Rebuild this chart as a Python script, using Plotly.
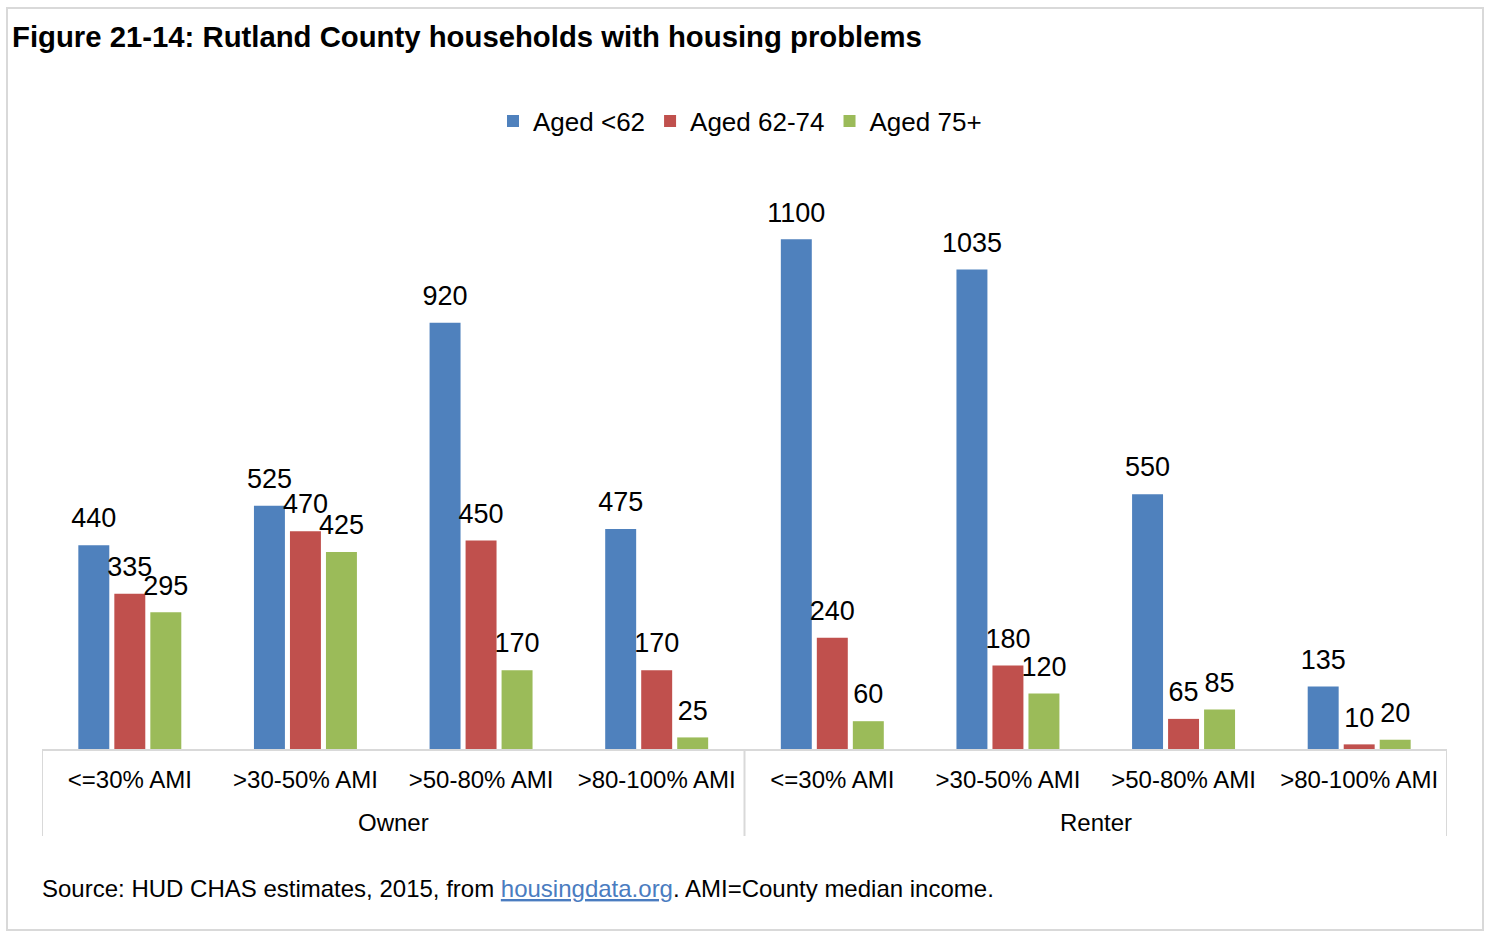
import plotly.graph_objects as go

# Household counts with housing problems, by tenure and income band
tenure = ["Owner"] * 4 + ["Renter"] * 4
income_band = ["<=30% AMI", ">30-50% AMI", ">50-80% AMI", ">80-100% AMI"] * 2

aged_under_62 = [440, 525, 920, 475, 1100, 1035, 550, 135]
aged_62_74 = [335, 470, 450, 170, 240, 180, 65, 10]
aged_75_plus = [295, 425, 170, 25, 60, 120, 85, 20]

series_names = ["Aged <62", "Aged 62-74", "Aged 75+"]
series_values = [aged_under_62, aged_62_74, aged_75_plus]
series_colors = ["#4F81BD", "#C0504D", "#9BBB59"]

FONT = "Liberation Sans, Arial, sans-serif"
W, H = 1486, 931
M_L, M_R, M_T, M_B = 42, 39, 193, 182
plot_w = W - M_L - M_R
plot_h = H - M_T - M_B
BAR_GAP = 0.385


def px_to_paper_x(px):
    return (px - M_L) / plot_w


def px_to_paper_y(py):
    return (H - M_B - py) / plot_h


# one slot per (tenure, income band) pair
positions = list(range(len(income_band)))

fig = go.Figure()
for name, vals, color in zip(series_names, series_values, series_colors):
    fig.add_trace(go.Bar(
        name=name,
        x=positions,
        y=vals,
        marker=dict(color=color, line=dict(width=0)),
        hoverinfo="skip",
    ))

# value labels, grouped the same way as the bars and lifted above the bar tops
for name, vals in zip(series_names, series_values):
    fig.add_trace(go.Scatter(
        name=name + " label",
        x=positions,
        y=vals,
        mode="markers+text",
        marker=dict(size=16, color="rgba(0,0,0,0)", line=dict(width=0)),
        text=[str(v) for v in vals],
        textposition="top center",
        textfont=dict(family=FONT, size=27, color="#000000"),
        cliponaxis=False,
        showlegend=False,
        hoverinfo="skip",
    ))

# group dividers and group names below the income band labels
group_names = []
for t in tenure:
    if t not in group_names:
        group_names.append(t)
edges = [-0.5]
centers = []
for g in group_names:
    idx = [i for i, t in enumerate(tenure) if t == g]
    centers.append(sum(idx) / len(idx))
    edges.append(max(idx) + 0.5)

for e in edges:
    fig.add_shape(
        type="line", xref="x", yref="paper",
        x0=e, x1=e, y0=0, y1=px_to_paper_y(836),
        line=dict(color="#D9D9D9", width=2),
    )
for g, c in zip(group_names, centers):
    fig.add_annotation(
        text=g, xref="x", yref="paper",
        x=c, y=px_to_paper_y(822), yanchor="middle",
        showarrow=False,
        font=dict(family=FONT, size=24, color="#000000"),
    )

fig.update_layout(
    width=W,
    height=H,
    margin=dict(l=M_L, r=M_R, t=M_T, b=M_B, pad=0),
    paper_bgcolor="#ffffff",
    plot_bgcolor="#ffffff",
    barmode="group",
    bargap=BAR_GAP,
    bargroupgap=0.14,
    scattermode="group",
    scattergap=BAR_GAP,
    font=dict(family=FONT, color="#000000"),
    title=dict(
        text="<b>Figure 21-14: Rutland County households with housing problems</b>",
        font=dict(family=FONT, size=29.3, color="#000000"),
        xref="container", yref="container",
        x=12 / W, xanchor="left",
        y=1 - 37 / H, yanchor="middle",
    ),
    legend=dict(
        orientation="h",
        x=px_to_paper_x(740), xanchor="center",
        y=px_to_paper_y(121), yanchor="middle",
        font=dict(family=FONT, size=26, color="#000000"),
        bgcolor="rgba(0,0,0,0)",
        traceorder="normal",
    ),
    xaxis=dict(
        range=[-0.5, len(income_band) - 0.5],
        tickmode="array",
        tickvals=positions,
        ticktext=income_band,
        showline=True,
        linecolor="#D9D9D9",
        linewidth=2,
        ticks="",
        ticklabelstandoff=8,
        showgrid=False,
        zeroline=False,
        tickfont=dict(family=FONT, size=24, color="#000000"),
    ),
    yaxis=dict(
        range=[0, 1200],
        visible=False,
        showgrid=False,
        zeroline=False,
    ),
    showlegend=True,
)

# Source note with the link styled as a hyperlink
fig.add_annotation(
    text=("Source: HUD CHAS estimates, 2015, from "
          "<span style='color:#4A7CC0;text-decoration:underline'>housingdata.org</span>"
          ". AMI=County median income."),
    xref="paper", yref="paper",
    x=px_to_paper_x(40), xanchor="left",
    y=px_to_paper_y(888), yanchor="middle",
    showarrow=False,
    font=dict(family=FONT, size=24, color="#000000"),
)

# Light frame around the whole chart
fig.add_shape(
    type="rect",
    xref="paper", yref="paper",
    x0=px_to_paper_x(7), x1=px_to_paper_x(1483),
    y0=px_to_paper_y(930), y1=px_to_paper_y(8),
    line=dict(color="#D9D9D9", width=2),
    fillcolor="rgba(0,0,0,0)",
    layer="below",
)

fig.write_html("out.html", config={"displayModeBar": False})
